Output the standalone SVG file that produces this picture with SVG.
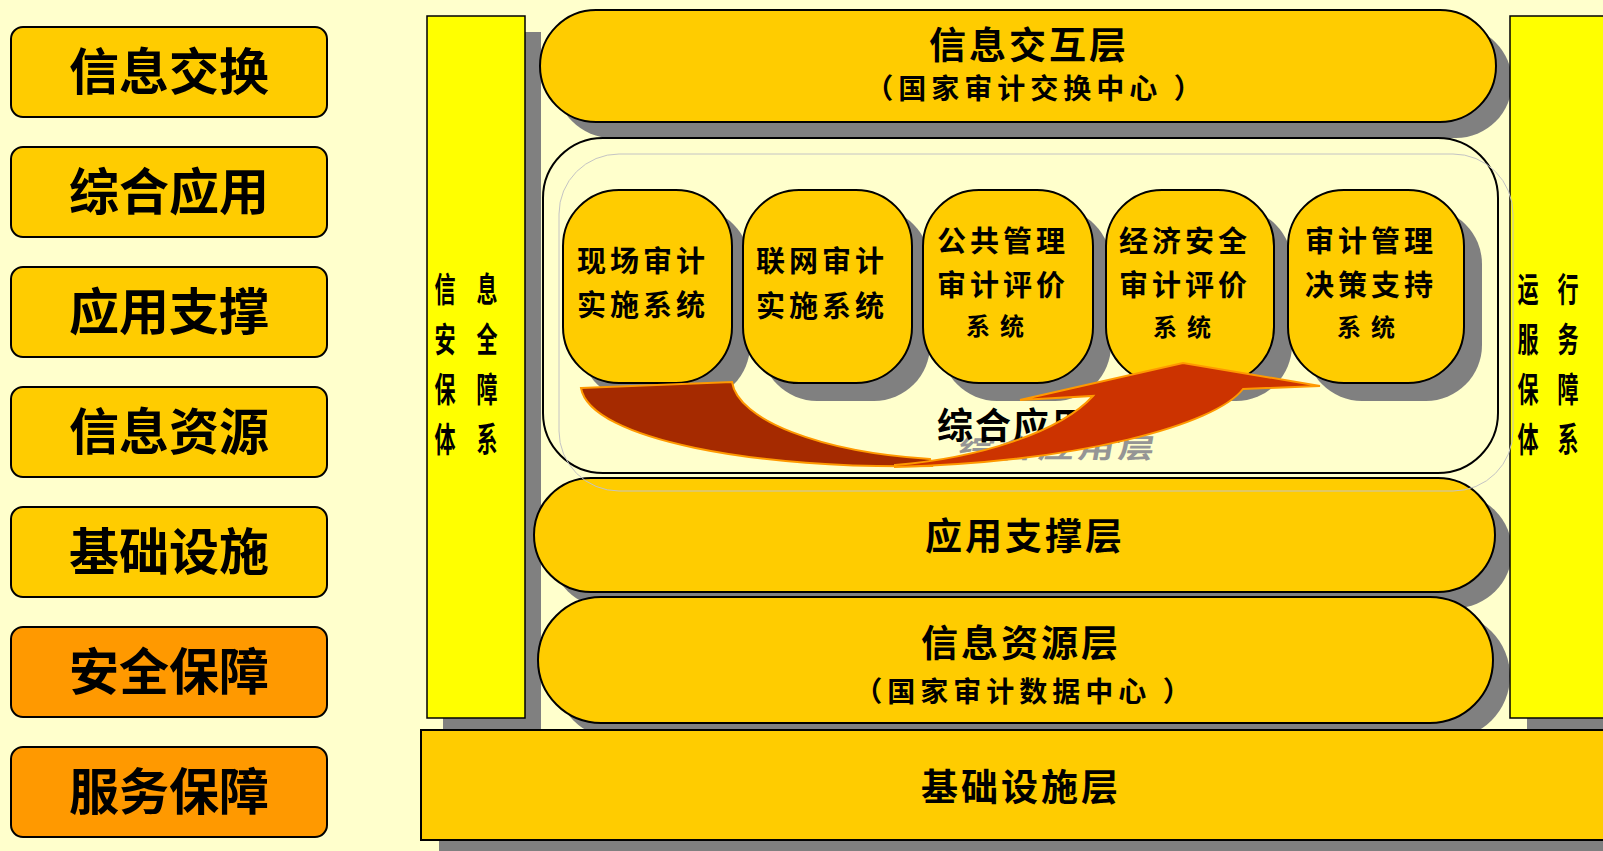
<svg xmlns="http://www.w3.org/2000/svg" width="1603" height="851" viewBox="0 0 1603 851">
<style>
.bg{fill:#FFFFCC}
.gold{fill:#FFCC00;stroke:#000;stroke-width:2}
.orng{fill:#FF9900;stroke:#000;stroke-width:2}
.yel{fill:#FFFF00;stroke:#000;stroke-width:1.5}
.sh{fill:#808080}
.t{font-family:"Noto Sans CJK SC","Noto Sans CJK JP",sans-serif;font-weight:700;fill:#000}
.side{font-size:50px;text-anchor:middle}
.big{font-size:37px;text-anchor:middle;letter-spacing:3px}
.sub{font-size:28px;text-anchor:middle;letter-spacing:5px}
.pt{font-size:29px;text-anchor:middle;letter-spacing:4px}
.p3{font-size:24px;text-anchor:middle;letter-spacing:10px}
.col{font-size:34px;text-anchor:middle}
.arr{stroke:#FF9900;stroke-width:2;stroke-linejoin:miter}
</style>
<rect class="bg" x="0" y="0" width="1603" height="851"/>

<g id="left-labels">
<g id="lbl-1"><rect class="gold" x="11" y="27" width="316" height="90" rx="12"/><text class="t side" x="169" y="90">信息交换</text></g>
<g id="lbl-2"><rect class="gold" x="11" y="147" width="316" height="90" rx="12"/><text class="t side" x="169" y="210">综合应用</text></g>
<g id="lbl-3"><rect class="gold" x="11" y="267" width="316" height="90" rx="12"/><text class="t side" x="169" y="330">应用支撑</text></g>
<g id="lbl-4"><rect class="gold" x="11" y="387" width="316" height="90" rx="12"/><text class="t side" x="169" y="450">信息资源</text></g>
<g id="lbl-5"><rect class="gold" x="11" y="507" width="316" height="90" rx="12"/><text class="t side" x="169" y="570">基础设施</text></g>
<g id="lbl-6"><rect class="orng" x="11" y="627" width="316" height="90" rx="12"/><text class="t side" x="169" y="690">安全保障</text></g>
<g id="lbl-7"><rect class="orng" x="11" y="747" width="316" height="90" rx="12"/><text class="t side" x="169" y="810">服务保障</text></g>
</g>

<g id="shadows">
<rect class="sh" x="443" y="32" width="98" height="702"/>
<rect class="sh" x="1527" y="33" width="100" height="702"/>
<rect class="sh" x="556" y="26" width="956" height="112" rx="56"/>
<rect class="sh" x="551" y="494" width="961" height="114" rx="57"/>
<rect class="sh" x="555" y="613" width="955" height="126" rx="63"/>
<rect class="sh" x="439" y="746" width="1190" height="110"/>
</g>

<g id="layer-exchange">
<rect class="gold" x="540" y="10" width="956" height="112" rx="56"/>
<text class="t big" x="1029" y="59">信息交互层</text>
<text class="t sub" x="1036" y="99">（国家审计交换中心 ）</text>
</g>

<g id="layer-app">
<rect x="543" y="138" width="955" height="335" rx="60" fill="#FFFFCC" stroke="#000" stroke-width="2"/>
<g id="app-shadows">
<rect class="sh" x="581" y="208" width="169" height="193" rx="56"/>
<rect class="sh" x="761" y="208" width="169" height="193" rx="56"/>
<rect class="sh" x="941" y="208" width="170" height="193" rx="56"/>
<rect class="sh" x="1124" y="208" width="168" height="193" rx="56"/>
<rect class="sh" x="1306" y="208" width="176" height="193" rx="56"/>
</g>
<g id="sys-1"><rect class="gold" x="563" y="190" width="169" height="193" rx="56"/>
<text class="t pt" x="643" y="272">现场审计</text><text class="t pt" x="643" y="316">实施系统</text></g>
<g id="sys-2"><rect class="gold" x="743" y="190" width="169" height="193" rx="56"/>
<text class="t pt" x="822" y="272">联网审计</text><text class="t pt" x="822" y="317">实施系统</text></g>
<g id="sys-3"><rect class="gold" x="923" y="190" width="170" height="193" rx="56"/>
<text class="t pt" x="1003" y="252">公共管理</text><text class="t pt" x="1003" y="296">审计评价</text><text class="t p3" x="1000" y="335">系统</text></g>
<g id="sys-4"><rect class="gold" x="1106" y="190" width="168" height="193" rx="56"/>
<text class="t pt" x="1185" y="252">经济安全</text><text class="t pt" x="1185" y="296">审计评价</text><text class="t p3" x="1187" y="336">系统</text></g>
<g id="sys-5"><rect class="gold" x="1288" y="190" width="176" height="193" rx="56"/>
<text class="t pt" x="1371" y="252">审计管理</text><text class="t pt" x="1371" y="296">决策支持</text><text class="t p3" x="1371" y="336">系统</text></g>
<text class="t" x="0" y="0" transform="translate(957,458) skewX(-10) scale(1,0.75)" font-size="36" letter-spacing="4" style="fill:#959595">综合应用层</text>
<text class="t" x="937" y="439" font-size="36" letter-spacing="2">综合应用层</text>
</g>

<g id="layer-support">
<rect class="gold" x="534" y="478" width="961" height="114" rx="57"/>
<text class="t big" x="1025" y="550">应用支撑层</text>
</g>

<g id="layer-resource">
<rect class="gold" x="538" y="597" width="955" height="126" rx="63"/>
<text class="t big" x="1021" y="657">信息资源层</text>
<text class="t sub" x="1025" y="702">（国家审计数据中心 ）</text>
</g>

<g id="layer-infra">
<rect class="gold" x="421" y="730" width="1190" height="110"/>
<text class="t big" x="1021" y="801">基础设施层</text>
</g>

<g id="security-column">
<rect class="yel" x="427" y="16" width="98" height="702"/>
<g transform="translate(445,0) scale(0.62,1)"><text class="t col" x="0" y="302">信<tspan x="0" y="352">安</tspan><tspan x="0" y="402">保</tspan><tspan x="0" y="452">体</tspan></text></g>
<g transform="translate(487,0) scale(0.62,1)"><text class="t col" x="0" y="302">息<tspan x="0" y="352">全</tspan><tspan x="0" y="402">障</tspan><tspan x="0" y="452">系</tspan></text></g>
</g>

<g id="service-column">
<rect class="yel" x="1510" y="16" width="100" height="702"/>
<g transform="translate(1528,0) scale(0.62,1)"><text class="t col" x="0" y="302">运<tspan x="0" y="352">服</tspan><tspan x="0" y="402">保</tspan><tspan x="0" y="452">体</tspan></text></g>
<g transform="translate(1568,0) scale(0.62,1)"><text class="t col" x="0" y="302">行<tspan x="0" y="352">务</tspan><tspan x="0" y="402">障</tspan><tspan x="0" y="452">系</tspan></text></g>
</g>

<rect id="ghost-outline" x="559" y="154" width="954" height="337" rx="60" fill="none" stroke="#C4C4C4" stroke-width="1"/>

<g id="connectors">
<path class="arr" fill="#A52A00" d="M581,388 L732,382 C738,420 820,452 930,459 L932,466 C760,470 590,440 581,388 Z"/>
<path class="arr" fill="#CC3300" d="M895,465 C980,458 1060,432 1093,396 L1020,400 L1183,363 L1320,386 L1243,389 C1215,425 1080,462 895,467 Z"/>
</g>
</svg>
